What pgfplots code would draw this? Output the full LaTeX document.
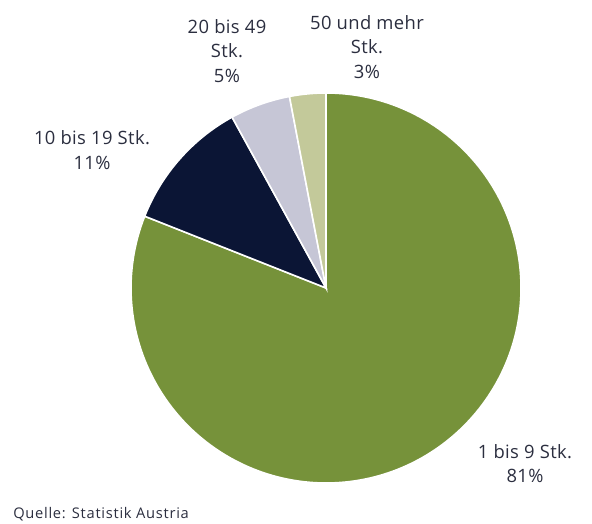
\documentclass[border=0pt]{standalone}
\usepackage{pgfplots}
\pgfplotsset{compat=1.18}
\usepackage{fontspec}
\setmainfont{Open Sans}
\definecolor{cGreen}{HTML}{76923A}
\definecolor{cNavy}{HTML}{0B1535}
\definecolor{cGray}{HTML}{C6C6D6}
\definecolor{cBeige}{HTML}{C3C99A}
\definecolor{cText}{HTML}{2B2E3F}
% shares in percent: 81, 11, 5, 3 -> angles (clockwise from top)
% 90 -> -201.6 -> -241.2 -> -259.2 -> -270
\begin{document}
\begin{tikzpicture}
\begin{axis}[hide axis, scale only axis, x=0.75pt, y=0.75pt,
  xmin=0, xmax=592, ymin=0, ymax=524, clip=false]
\path (axis cs:0,0) rectangle (axis cs:592,524);
\filldraw[fill=cGreen, draw=white, line width=1.2pt] (axis cs:326,236) -- ++(90:146.25pt)
  arc[start angle=90, end angle=-201.6, radius=146.25pt] -- cycle;
\filldraw[fill=cNavy, draw=white, line width=1.2pt] (axis cs:326,236) -- ++(-201.6:146.25pt)
  arc[start angle=-201.6, end angle=-241.2, radius=146.25pt] -- cycle;
\filldraw[fill=cGray, draw=white, line width=1.2pt] (axis cs:326,236) -- ++(-241.2:146.25pt)
  arc[start angle=-241.2, end angle=-259.2, radius=146.25pt] -- cycle;
\filldraw[fill=cBeige, draw=white, line width=1.2pt] (axis cs:326,236) -- ++(-259.2:146.25pt)
  arc[start angle=-259.2, end angle=-270, radius=146.25pt] -- cycle;
\begin{scope}[every node/.style={align=center, text=cText, font=\fontsize{13.8}{18.5}\selectfont\addfontfeatures{LetterSpace=2}}]
\node at (axis cs:227,473) {20 bis 49\\Stk.\\5\%};
\node at (axis cs:367,477) {50 und mehr\\Stk.\\3\%};
\node at (axis cs:92,374) {10 bis 19 Stk.\\11\%};
\node at (axis cs:525,60.5) {1 bis 9 Stk.\\81\%};
\end{scope}
\node[anchor=base west, text=cText, font=\fontsize{11}{13}\selectfont\addfontfeatures{LetterSpace=5}, inner sep=0pt] at (axis cs:13,5) {Quelle: Statistik Austria};
\end{axis}
\end{tikzpicture}
\end{document}
